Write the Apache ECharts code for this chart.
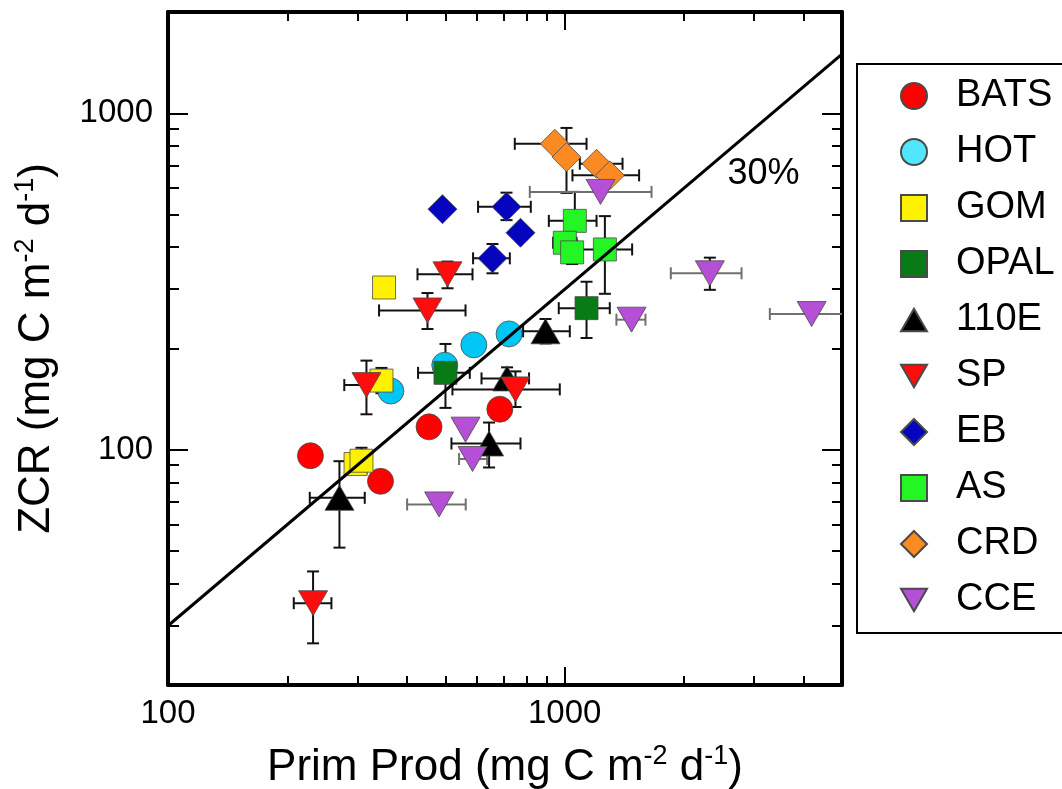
<!DOCTYPE html>
<html>
<head>
<meta charset="utf-8">
<script src="https://cdn.jsdelivr.net/npm/echarts@6/dist/echarts.min.js"></script>
<style>
  html, body { margin: 0; padding: 0; background: #fff; }
  #chart { width: 1062px; height: 789px; }
</style>
</head>
<body>
<div id="chart"></div>
<script>
// Zooplankton carbon requirement vs. primary production, by study site.
// Each row: [primProd, zcr, primProdLow, primProdHigh, zcrLow, zcrHigh]
// (error bounds are null where the site has no bar in that direction)
const BATS = [
  [228.6, 96], [343.3, 80.6], [455.0, 117], [686.2, 132]
];
const HOT = [
  [364.6, 149.5], [498.5, 178.4], [590, 205], [724, 221]
];
const GOM = [
  [350.4, 303.6, null, null, 282.5, 326],
  [345.2, 160.6, null, null, 147.3, 175.1],
  [297.0, 90.7],
  [307.4, 92.8, null, null, 85, 101.4]
];
const OPAL = [
  [500.5, 169.3, 426.9, 576.4, 133.2, 206.3],
  [1135, 263.6, 966, 1299, 214.9, 315.8]
];
const E110 = [
  [270.5, 72.0, 227.7, 313.3, 51.2, 92.5],
  [644.7, 104.4, 518.2, 773.6, 88.6, 120.5],
  [715.8, 163, 617, 813, 151, 175.8],
  [894.5, 225, 785.4, 1030, 207, 244.7]
];
const SP = [
  [232.1, 35, 207.5, 258.2, 26.6, 43.5],
  [316.4, 155.7, 278.2, 366.4, 127.5, 184.1],
  [450.9, 259.5, 340.4, 562.3, 228.5, 292.3],
  [506.4, 332.3, 425.5, 585.6, 302, 362.5],
  [751.4, 151.2, 521.2, 971.8, 134, 171]
];
const EB = [
  [491.9, 519],
  [713.3, 527.3, 604.8, 821.3, 481.5, 581],
  [773.6, 441.6],
  [657.6, 370.7, 587.5, 727.2, 334.6, 408.8]
];
const AS = [
  [1060.5, 479, 912, 1203, 393, 584],
  [1000.6, 412.5, 935, 1071, null, null],
  [1044, 386.1, null, null, 356.4, 418.3],
  [1262.6, 393.9, 1078, 1479, 290.8, 494.8]
];
const CRD = [
  [944.1, 811.5, 748.4, 1135, null, null],
  [1010.4, 741, null, null, 580, 904.6],
  [1203, 708, 1091.6, 1398.8, null, null],
  [1299, 654, 1046, 1540, null, null]
];
const CCE = [
  [1231, 584, 816.6, 1655, null, null],
  [2322, 334.6, 1851, 2791, 298.8, 372.4],
  [4192, 253.2, 3289, 5343, null, null],
  [1474, 243.6, 1350, 1598, null, null],
  [562.3, 114.8],
  [585.6, 93.9, 541.6, 637.3, null, null],
  [482.3, 68.8, 400.6, 563, null, null]
];

// Axis ranges and tick values
const X_MIN = 100, X_MAX = 5000;
const Y_MIN = 20, Y_MAX = 2000;
const xMajor = [100, 1000];
const xMinor = [200, 300, 400, 500, 600, 700, 800, 900, 2000, 3000, 4000];
const yMajor = [100, 1000];
const yMinor = [30, 40, 50, 60, 70, 80, 90, 200, 300, 400, 500, 600, 700, 800, 900];

// 30% reference line: ZCR = 0.3 * Prim Prod
const RATIO = 0.3;
const ratioLabel = '30%';
const ratioLabelAt = [3170, 660];

const FONT = "'Liberation Sans', Arial, Helvetica, sans-serif";

const TRI_DOWN = 'path://M0,0L29,0L14.5,25Z';
const TRI_UP = 'path://M14.5,0L29,25L0,25Z';

const chart = echarts.init(document.getElementById('chart'), null, { renderer: 'canvas' });

function tickAxis(kind, position, ticks, len, extra) {
  const isX = kind === 'x';
  return Object.assign({
    type: 'log', logBase: 10,
    min: isX ? X_MIN : Y_MIN, max: isX ? X_MAX : Y_MAX,
    position,
    axisLine: { show: false },
    axisTick: { show: true, inside: true, length: len, customValues: ticks,
      lineStyle: { color: '#000', width: 2 } },
    axisLabel: { show: false },
    splitLine: { show: false },
    minorTick: { show: false },
    minorSplitLine: { show: false }
  }, extra || {});
}

const frameLine = { show: true, lineStyle: { color: '#000', width: 4 } };
const tickLabel = {
  show: true, customValues: null, color: '#000', fontSize: 33, fontFamily: FONT,
  formatter: v => String(Math.round(v))
};
const unitRich = {
  a: { fontSize: 44, fontFamily: FONT, color: '#000', lineHeight: 50 },
  b: { fontSize: 27, fontFamily: FONT, color: '#000', verticalAlign: 'top', lineHeight: 30 }
};

const xAxes = [
  tickAxis('x', 'bottom', xMajor, 18, {
    axisLine: frameLine,
    axisLabel: Object.assign({}, tickLabel, { customValues: xMajor, margin: 12 }),
    name: '{a|Prim Prod (mg C m}{b|-2}{a| d}{b|-1}{a|)}',
    nameLocation: 'middle', nameGap: 58,
    nameTextStyle: { rich: unitRich }
  }),
  tickAxis('x', 'bottom', xMinor, 9),
  tickAxis('x', 'top', xMajor, 18, { axisLine: frameLine }),
  tickAxis('x', 'top', xMinor, 9)
];
const yAxes = [
  tickAxis('y', 'left', yMajor, 20, {
    axisLine: frameLine,
    axisLabel: Object.assign({}, tickLabel, { customValues: yMajor, margin: 15 }),
    name: '{a|ZCR (mg C m}{b|-2}{a| d}{b|-1}{a|)}',
    nameLocation: 'middle', nameGap: 106,
    nameTextStyle: { rich: unitRich }
  }),
  tickAxis('y', 'left', yMinor, 11),
  tickAxis('y', 'right', yMajor, 20, { axisLine: frameLine }),
  tickAxis('y', 'right', yMinor, 10)
];

// Error bars with end caps, drawn through the axes' own scales
function errorBars(name, rows, hColor, vColor) {
  const data = rows.filter(r => r.length > 2).map(r => [
    r[0], r[1],
    r[2] == null ? r[0] : r[2], r[3] == null ? r[0] : r[3],
    r[4] == null ? r[1] : r[4], r[5] == null ? r[1] : r[5]
  ]);
  const CAP = 6;
  const seg = (x1, y1, x2, y2, color) => ({
    type: 'line', shape: { x1, y1, x2, y2 },
    style: { stroke: color, lineWidth: 2 }
  });
  return {
    type: 'custom', name: name + ' bars', data, clip: true, silent: true,
    encode: { x: [0, 2, 3], y: [1, 4, 5] },
    renderItem(params, api) {
      const x = api.value(0), y = api.value(1);
      const xl = api.value(2), xh = api.value(3), yl = api.value(4), yh = api.value(5);
      const c = api.coord([x, y]);
      const children = [];
      if (xl !== xh) {
        const a = api.coord([xl, y])[0], b = api.coord([xh, y])[0];
        children.push(seg(a, c[1], b, c[1], hColor),
          seg(a, c[1] - CAP, a, c[1] + CAP, hColor),
          seg(b, c[1] - CAP, b, c[1] + CAP, hColor));
      }
      if (yl !== yh) {
        const a = api.coord([x, yl])[1], b = api.coord([x, yh])[1];
        children.push(seg(c[0], a, c[0], b, vColor),
          seg(c[0] - CAP, a, c[0] + CAP, a, vColor),
          seg(c[0] - CAP, b, c[0] + CAP, b, vColor));
      }
      return { type: 'group', children };
    }
  };
}

function points(name, rows, symbol, size, color, border) {
  return {
    type: 'scatter', name, symbol, symbolSize: size,
    data: rows.map(r => [r[0], r[1]]),
    itemStyle: { color, opacity: 1, borderColor: border || '#4a4a4a', borderWidth: 0.8 },
    emphasis: { disabled: true }
  };
}

const groups = [
  ['BATS', BATS, 'circle', 26, '#ff0000'],
  ['HOT', HOT, 'circle', 26, '#00c6f5'],
  ['GOM', GOM, 'rect', 23, '#fff200'],
  ['OPAL', OPAL, 'rect', 23, '#087a16'],
  ['110E', E110, TRI_UP, [29, 25], '#000000'],
  ['SP', SP, TRI_DOWN, [29, 25], '#ff0d0d'],
  ['EB', EB, 'diamond', [29, 29], '#0505bf'],
  ['AS', AS, 'rect', 23, '#24f524'],
  ['CRD', CRD, 'diamond', [29, 29], '#fb8a22'],
  ['CCE', CCE, TRI_DOWN, [29, 25], '#b44fd6']
];

const series = [];
groups.forEach(([name, rows, symbol, size, color]) => {
  const hColor = name === 'CCE' ? '#707070' : '#111';
  series.push(errorBars(name, rows, hColor, '#111'));
  series.push(points(name, rows, symbol, size, color));
});

series.push({
  type: 'line', name: 'ratio', silent: true, symbol: 'none',
  data: [[X_MIN, RATIO * X_MIN], [X_MAX, RATIO * X_MAX]],
  lineStyle: { color: '#000', width: 3 }
});
series.push({
  type: 'scatter', name: 'ratio label', silent: true, symbolSize: 1,
  data: [ratioLabelAt],
  itemStyle: { color: 'rgba(0,0,0,0)', opacity: 1 },
  label: { show: true, position: 'inside', formatter: ratioLabel,
    fontSize: 36, fontFamily: FONT, color: '#000' }
});

const legendNames = groups.map(g => g[0]);

chart.setOption({
  animation: false,
  backgroundColor: '#fff',
  textStyle: { fontFamily: FONT },
  grid: { left: 168, right: 220, top: 12, bottom: 104, containLabel: false, outerBoundsMode: 'none' },
  xAxis: xAxes,
  yAxis: yAxes,
  legend: {
    orient: 'vertical', left: 857, top: 64,
    padding: [13, 40, 14, 43],
    itemWidth: 26, itemHeight: 26, itemGap: 18,
    borderColor: '#000', borderWidth: 2, backgroundColor: '#fff',
    selectedMode: false,
    textStyle: { fontSize: 38, lineHeight: 26, color: '#000', fontFamily: FONT, padding: [0, 0, 0, 24] },
    data: legendNames.map(n => n === 'HOT' ? { name: n, itemStyle: { color: '#52e6fd' } } : n)
  },
  series
});
</script>
</body>
</html>
